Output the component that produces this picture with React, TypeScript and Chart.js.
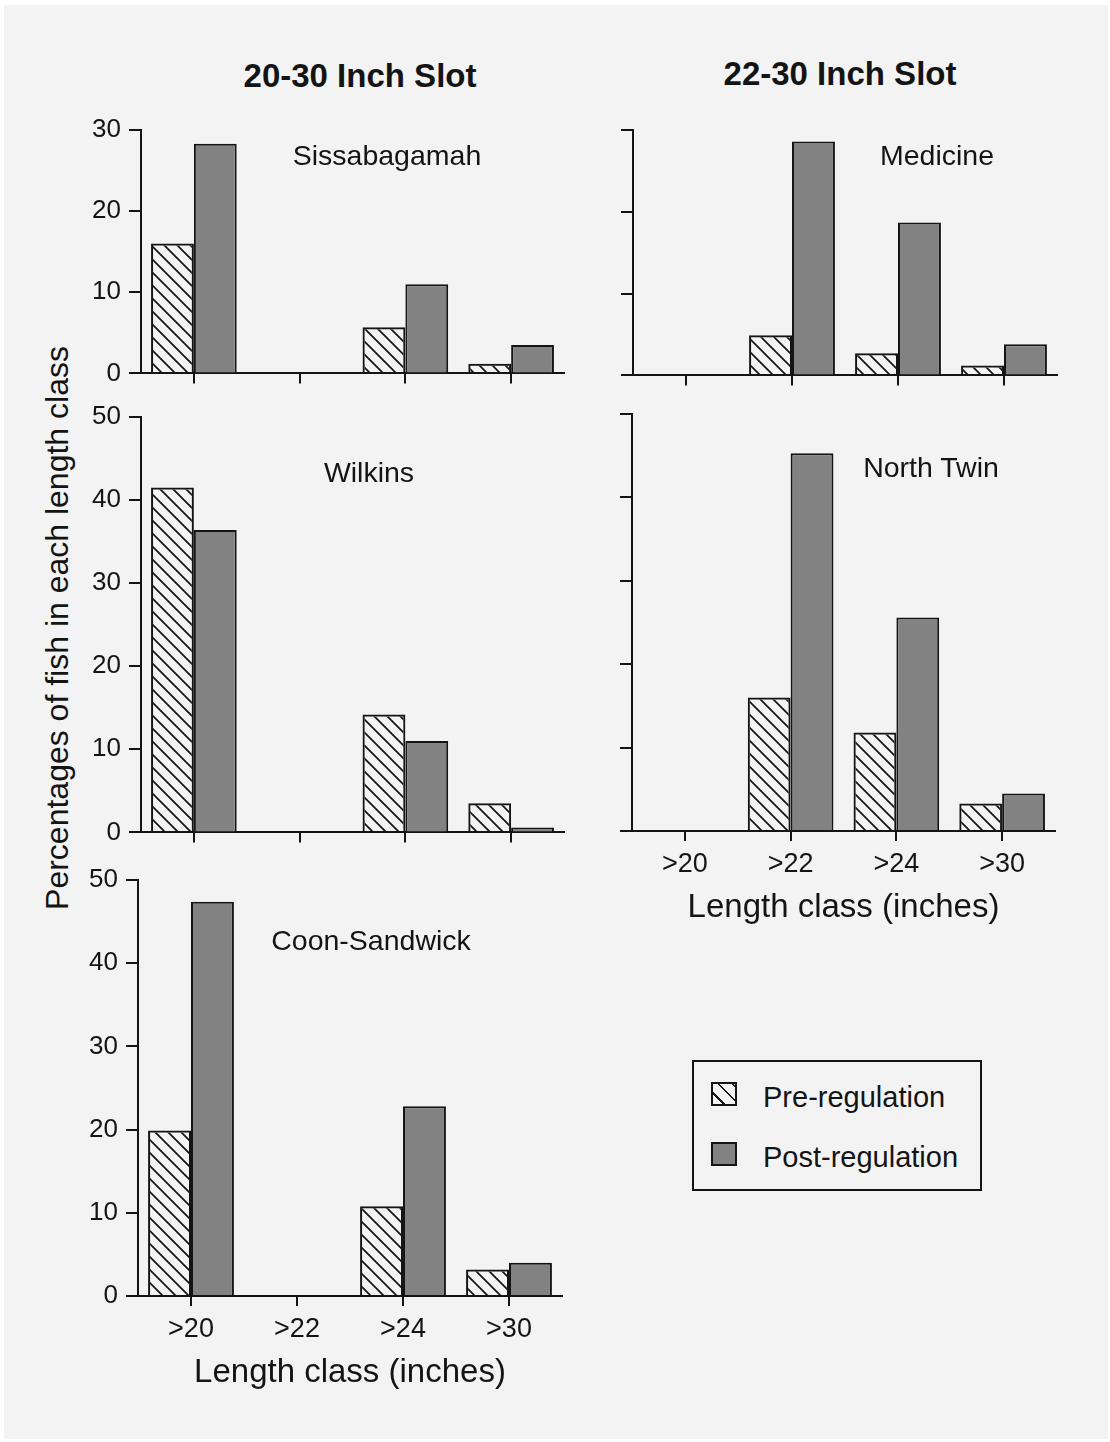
import React, { useEffect, useRef } from "react";
import { Chart, registerables } from "chart.js";

Chart.register(...registerables);

const FONT = "'Liberation Sans', Arial, Helvetica, sans-serif";
Chart.defaults.font.family = FONT;

// ---------- data ----------
const categories = [">20", ">22", ">24", ">30"];

const sissabagamahPre = [16.0, null, 5.7, 1.2];
const sissabagamahPost = [28.3, null, 11.0, 3.5];

const medicinePre = [null, 4.9, 2.7, 1.2];
const medicinePost = [null, 28.6, 18.7, 3.8];

const wilkinsPre = [41.5, null, 14.2, 3.5];
const wilkinsPost = [36.4, null, 11.0, 0.6];

const northTwinPre = [null, 16.0, 11.8, 3.3];
const northTwinPost = [null, 45.3, 25.6, 4.5];

const coonSandwickPre = [19.9, null, 10.8, 3.2];
const coonSandwickPost = [47.4, null, 22.8, 4.0];

const seriesNames = ["Pre-regulation", "Post-regulation"];
const xAxisTitle = "Length class (inches)";
const yAxisTitle = "Percentages of fish in each length class";

// ---------- layout (chart area in page px) ----------
type PanelCfg = {
  name: string;
  pre: (number | null)[];
  post: (number | null)[];
  max: number;
  left: number;
  right: number;
  top: number;
  bottom: number;
  yLabels: boolean;
  xLabels: boolean;
  nameX: number;
  nameY: number;
};

const panels: PanelCfg[] = [
  { name: "Sissabagamah", pre: sissabagamahPre, post: sissabagamahPost, max: 30, left: 141, right: 564, top: 130, bottom: 377, yLabels: true, xLabels: false, nameX: 387, nameY: 155 },
  { name: "Medicine", pre: medicinePre, post: medicinePost, max: 30, left: 633, right: 1057, top: 130, bottom: 379, yLabels: false, xLabels: false, nameX: 937, nameY: 155 },
  { name: "Wilkins", pre: wilkinsPre, post: wilkinsPost, max: 50, left: 141, right: 564, top: 417, bottom: 836, yLabels: true, xLabels: false, nameX: 369, nameY: 472 },
  { name: "North Twin", pre: northTwinPre, post: northTwinPost, max: 50, left: 632, right: 1055, top: 414, bottom: 831, yLabels: false, xLabels: true, nameX: 931, nameY: 467 },
  { name: "Coon-Sandwick", pre: coonSandwickPre, post: coonSandwickPost, max: 50, left: 138, right: 562, top: 880, bottom: 1296, yLabels: true, xLabels: true, nameX: 371, nameY: 940 },
];

const INK = "#141414";
const POST_FILL = "#828282";
const Y_W = 90;
const PAD_T = 24;
const PAD_R = 14;

function makeHatch(): CanvasPattern | string {
  const s = 13;
  const c = document.createElement("canvas");
  c.width = s;
  c.height = s;
  const ctx = c.getContext("2d");
  if (!ctx) return "transparent";
  ctx.strokeStyle = INK;
  ctx.lineWidth = 1.7;
  ctx.beginPath();
  ctx.moveTo(-2, -2);
  ctx.lineTo(s + 2, s + 2);
  ctx.moveTo(s - 2, -2);
  ctx.lineTo(s + 2, 2);
  ctx.moveTo(-2, s - 2);
  ctx.lineTo(2, s + 2);
  ctx.stroke();
  return ctx.createPattern(c, "repeat") || "transparent";
}

function Panel({ cfg }: { cfg: PanelCfg }) {
  const ref = useRef<HTMLCanvasElement | null>(null);
  const xh = cfg.xLabels ? 97 : 20;
  const cLeft = cfg.left - Y_W;
  const cTop = cfg.top - PAD_T;
  const cW = cfg.right + PAD_R - cLeft;
  const cH = cfg.bottom + xh - cTop;

  useEffect(() => {
    if (!ref.current) return;
    const hatch = makeHatch();
    const chart = new Chart(ref.current, {
      type: "bar",
      data: {
        labels: categories,
        datasets: [
          {
            label: seriesNames[0],
            data: cfg.pre,
            backgroundColor: hatch as any,
            borderColor: INK,
            borderWidth: 2,
            categoryPercentage: 0.81,
            barPercentage: 1,
          },
          {
            label: seriesNames[1],
            data: cfg.post,
            backgroundColor: POST_FILL,
            borderColor: INK,
            borderWidth: 2,
            categoryPercentage: 0.81,
            barPercentage: 1,
          },
        ],
      },
      options: {
        responsive: false,
        animation: false,
        events: [],
        layout: { padding: { top: PAD_T, right: PAD_R, left: 0, bottom: 0 } },
        plugins: { legend: { display: false }, tooltip: { enabled: false } },
        scales: {
          x: {
            type: "category",
            offset: true,
            grid: { offset: false, drawOnChartArea: false, drawTicks: true, tickLength: 10, lineWidth: 2, color: INK },
            border: { display: true, width: 2, color: INK },
            ticks: {
              display: true,
              color: cfg.xLabels ? INK : "transparent",
              font: { size: 27, family: FONT },
              padding: 7,
              maxRotation: 0,
              autoSkip: false,
            },
            title: {
              display: cfg.xLabels,
              text: xAxisTitle,
              color: INK,
              font: { size: 33, family: FONT },
              padding: 0,
            },
            afterFit: (s: any) => {
              s.height = xh;
            },
          },
          y: {
            min: 0,
            max: cfg.max,
            grid: { drawOnChartArea: false, drawTicks: true, tickLength: 12, lineWidth: 2, color: INK },
            border: { display: true, width: 2, color: INK },
            ticks: {
              stepSize: 10,
              color: cfg.yLabels ? INK : "transparent",
              font: { size: 26, family: FONT },
              padding: 8,
            },
            afterFit: (s: any) => {
              s.width = Y_W;
            },
          },
        },
      },
    });
    return () => chart.destroy();
  }, [cfg]);

  return (
    <>
      <canvas
        ref={ref}
        width={cW}
        height={cH}
        style={{ position: "absolute", left: cLeft, top: cTop, width: cW, height: cH }}
      />
      <div style={{ ...centered(cfg.nameX, cfg.nameY), fontSize: 28.5 }}>{cfg.name}</div>
    </>
  );
}

function centered(x: number, y: number): React.CSSProperties {
  return {
    position: "absolute",
    left: x,
    top: y,
    transform: "translate(-50%, -50%)",
    whiteSpace: "nowrap",
    lineHeight: 1,
    color: INK,
    fontFamily: FONT,
  };
}

export default function App() {
  return (
    <div style={{ position: "absolute", left: 0, top: 0, width: 1110, height: 1442, background: "#ffffff", overflow: "hidden" }}>
      <div style={{ position: "absolute", left: 4, top: 5, width: 1104, height: 1434, background: "#f3f3f3" }} />
      <div style={{ ...centered(360, 75), fontSize: 33, fontWeight: "bold" }}>20-30 Inch Slot</div>
      <div style={{ ...centered(840, 73), fontSize: 33, fontWeight: "bold" }}>22-30 Inch Slot</div>
      <div style={{ ...centered(57, 628), fontSize: 32, transform: "translate(-50%, -50%) rotate(-90deg)" }}>{yAxisTitle}</div>
      {panels.map((p) => (
        <Panel key={p.name} cfg={p} />
      ))}
      <div
        style={{
          position: "absolute",
          left: 692,
          top: 1060,
          width: 290,
          height: 131,
          boxSizing: "border-box",
          border: `2px solid ${INK}`,
        }}
      />
      <div
        style={{
          position: "absolute",
          left: 711,
          top: 1082,
          width: 26,
          height: 24,
          boxSizing: "border-box",
          border: `2px solid ${INK}`,
          background: `repeating-linear-gradient(45deg, transparent 0px, transparent 7px, ${INK} 7px, ${INK} 8.6px, transparent 8.6px, transparent 10px)`,
        }}
      />
      <div
        style={{
          position: "absolute",
          left: 711,
          top: 1142,
          width: 26,
          height: 24,
          boxSizing: "border-box",
          border: `2px solid ${INK}`,
          background: POST_FILL,
        }}
      />
      <div style={{ ...centered(763, 1097), transform: "translate(0, -50%)", fontSize: 29 }}>{seriesNames[0]}</div>
      <div style={{ ...centered(763, 1157), transform: "translate(0, -50%)", fontSize: 29 }}>{seriesNames[1]}</div>
    </div>
  );
}
